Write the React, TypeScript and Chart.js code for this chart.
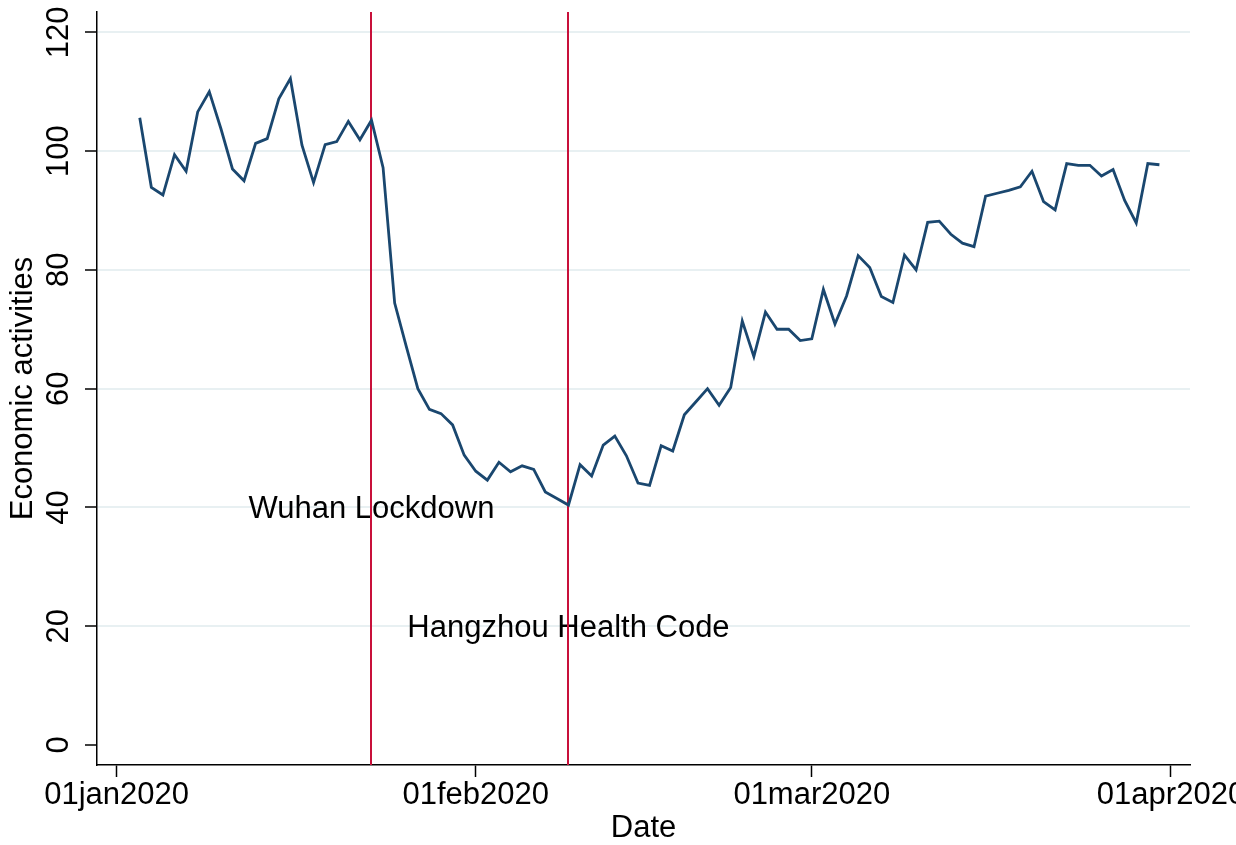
import React, { useEffect, useRef } from "react";
import { Chart, registerables } from "chart.js";

Chart.register(...registerables);

// Days are counted from 01jan2020 (day 0). First observation: 03jan2020.
const firstDay = 2;
const activityValues = [
  105.6, 93.9, 92.6, 99.4, 96.6, 106.6, 110.0, 103.8, 97.0, 95.0,
  101.3, 102.1, 108.8, 112.2, 101.0, 94.7, 101.1, 101.6, 105.0, 101.9,
  105.2, 97.2, 74.4, 67.1, 60.0, 56.5, 55.8, 53.9, 48.8, 46.1,
  44.6, 47.6, 46.0, 47.0, 46.4, 42.6, 41.5, 40.4, 47.2, 45.3,
  50.5, 52.0, 48.7, 44.1, 43.7, 50.4, 49.5, 55.6, 57.8, 60.0,
  57.2, 60.2, 71.4, 65.4, 72.9, 70.0, 70.0, 68.1, 68.4, 76.7,
  70.9, 75.6, 82.4, 80.4, 75.5, 74.5, 82.5, 80.0, 88.0, 88.2,
  86.0, 84.5, 83.9, 92.4, 92.9, 93.4, 94.0, 96.6, 91.5, 90.1,
  97.9, 97.6, 97.6, 95.8, 96.9, 91.7, 87.9, 97.9, 97.7,
];

const xTickValues = [0, 31, 60, 91];
const xTickLabels = ["01jan2020", "01feb2020", "01mar2020", "01apr2020"];
const yTickValues = [0, 20, 40, 60, 80, 100, 120];

const eventDays = [22, 39];
const eventLabels = ["Wuhan Lockdown", "Hangzhou Health Code"];
const eventLabelValues = [40, 20];

const FONT = '"Liberation Sans", Arial, sans-serif';
const LINE_COLOR = "#1a476f";
const EVENT_COLOR = "#c8103a";
const GRID_COLOR = "rgb(232,240,242)";

const eventPlugin = {
  id: "eventLines",
  beforeDatasetsDraw(chart: any) {
    const { ctx, chartArea, scales } = chart;
    ctx.save();
    ctx.font = `31px ${FONT}`;
    ctx.fillStyle = "#000";
    ctx.textAlign = "center";
    ctx.textBaseline = "middle";
    eventDays.forEach((d, i) => {
      ctx.fillText(
        eventLabels[i],
        scales.x.getPixelForValue(d),
        scales.y.getPixelForValue(eventLabelValues[i]) + 2
      );
    });
    ctx.strokeStyle = EVENT_COLOR;
    ctx.lineWidth = 2;
    eventDays.forEach((d) => {
      const x = Math.round(scales.x.getPixelForValue(d));
      ctx.beginPath();
      ctx.moveTo(x, chartArea.top);
      ctx.lineTo(x, chartArea.bottom);
      ctx.stroke();
    });
    ctx.restore();
  },
};

export default function App() {
  const canvasRef = useRef<HTMLCanvasElement | null>(null);

  useEffect(() => {
    document.body.style.margin = "0";
    const canvas = canvasRef.current;
    if (!canvas) return;
    const data = activityValues.map((v, i) => ({ x: firstDay + i, y: v }));
    const chart = new Chart(canvas, {
      type: "line",
      data: {
        datasets: [
          {
            data,
            borderColor: LINE_COLOR,
            backgroundColor: LINE_COLOR,
            borderWidth: 2.8,
            pointRadius: 0,
            tension: 0,
            fill: false,
          },
        ],
      },
      plugins: [eventPlugin],
      options: {
        animation: false,
        responsive: false,
        devicePixelRatio: 1,
        layout: { padding: { left: 0, top: 12, right: 46, bottom: 0 } },
        plugins: {
          legend: { display: false },
          tooltip: { enabled: false },
        },
        scales: {
          x: {
            type: "linear",
            min: -1.69,
            max: 92.64,
            afterBuildTicks: (scale: any) => {
              scale.ticks = xTickValues.map((v) => ({ value: v }));
            },
            afterFit: (scale: any) => {
              scale.height = 80;
              scale.paddingLeft = 0;
              scale.paddingRight = 0;
            },
            ticks: {
              autoSkip: false,
              maxRotation: 0,
              minRotation: 0,
              padding: 0,
              color: "#000",
              font: { family: FONT, size: 31, lineHeight: 1.2 },
              callback: (_v: any, index: number) => xTickLabels[index],
            },
            grid: {
              display: true,
              drawOnChartArea: false,
              drawTicks: true,
              tickLength: 12,
              tickColor: "#000",
              tickWidth: 1.5,
            },
            border: { display: true, color: "#000", width: 1.5 },
            title: {
              display: true,
              text: "Date",
              color: "#000",
              font: { family: FONT, size: 31, lineHeight: 1 },
              padding: { top: 0, bottom: 1 },
            },
          },
          y: {
            type: "linear",
            min: -3.37,
            max: 123.42,
            afterBuildTicks: (scale: any) => {
              scale.ticks = yTickValues.map((v) => ({ value: v }));
            },
            afterFit: (scale: any) => {
              scale.width = 97;
              scale.paddingTop = 0;
              scale.paddingBottom = 0;
            },
            ticks: {
              autoSkip: false,
              minRotation: 90,
              maxRotation: 90,
              crossAlign: "center",
              padding: 0,
              color: "#000",
              font: { family: FONT, size: 31, lineHeight: 1.2 },
              callback: (v: any) => String(v),
            },
            grid: {
              display: true,
              drawOnChartArea: true,
              drawTicks: true,
              tickLength: 12,
              color: (ctx: any) =>
                ctx.tick && ctx.tick.value === 0 ? "rgba(0,0,0,0)" : GRID_COLOR,
              lineWidth: 2,
              tickColor: "#000",
              tickWidth: 1.5,
            },
            border: { display: true, color: "#000", width: 1.5 },
            title: {
              display: true,
              text: "Economic activities",
              color: "#000",
              font: { family: FONT, size: 31, lineHeight: 1.2 },
              padding: { top: 4.7, bottom: 0 },
            },
          },
        },
      },
    } as any);
    return () => chart.destroy();
  }, []);

  return (
    <div style={{ position: "fixed", left: 0, top: 0, width: 1236, height: 845, background: "#fff" }}>
      <canvas ref={canvasRef} width={1236} height={845} style={{ display: "block" }} />
    </div>
  );
}
